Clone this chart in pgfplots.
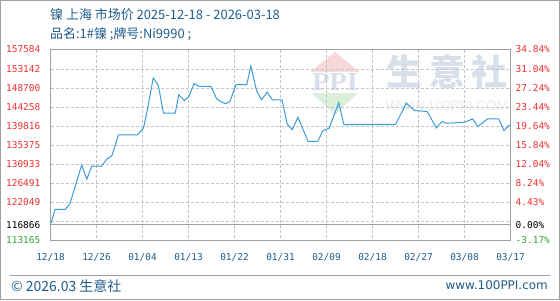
\documentclass[border=0pt]{standalone}
\usepackage{fontspec}
\setmainfont{Noto Sans CJK SC}
\newfontfamily\cjk{Noto Sans CJK SC}
\newfontfamily\mono{DejaVu Sans Mono}
\newfontfamily\dsans{DejaVu Sans}
\newfontfamily\lsans{Liberation Sans}
\newfontfamily\lserif{Liberation Serif}
\usepackage{pgfplots}
\pgfplotsset{compat=1.18}
\definecolor{tblue}{HTML}{1F5C8B}
\definecolor{pred}{HTML}{F03030}
\definecolor{pgreen}{HTML}{30A830}
\definecolor{lblue}{HTML}{3C9BD8}
\definecolor{framec}{HTML}{A0A0A0}
\definecolor{gridc}{HTML}{C4C4C4}
\definecolor{wm}{HTML}{D8DEEA}
\definecolor{wmr}{HTML}{F7D9D9}
\definecolor{wmg}{HTML}{DAEEDA}
\definecolor{wmt}{HTML}{EBEBEB}
\begin{document}
\begin{tikzpicture}[x=1bp,y=1bp]
\useasboundingbox (0,0) rectangle (560,300);
\draw[framec, line width=1bp] (0.5,0.5) rectangle (559.5,299.5);
% watermark
\fill[wmr] (310,228) -- (360,228) -- (335,248) -- cycle;
\fill[wmg] (312,207) -- (358,207) -- (335,185) -- cycle;
\node[text=wm, inner sep=0] at (335,218) {\resizebox{46bp}{17bp}{\lserif\bfseries PPI}};
\node[text=wm, font=\cjk\fontsize{36}{36}\selectfont\bfseries, inner sep=0] at (447,228) {生\hspace{7bp}意\hspace{7bp}社};
\node[text=wmt, inner sep=0] at (447,194) {\resizebox{122bp}{!}{\lsans WWW.100PPI.COM}};
% dashed grid built from short solid segments (decoration)
\foreach \gy in {78.5,97.5,116.5,135.5,154.5,173.5,192.5,211.5,230.5} {
  \draw[gridc, line width=1bp] \foreach \s in {51,56,...,506} {(\s,\gy) -- ++(3,0)};
}
\foreach \gx in {96.5,142.5,188.5,234.5,280.5,326.5,372.5,418.5,464.5} {
  \draw[gridc, line width=1bp] \foreach \s in {250,245,...,63} {(\gx,\s) -- ++(0,-3)};
}
% titles
\node[anchor=west, text=tblue, font=\cjk\fontsize{13}{13}\selectfont, inner sep=0] at (50,285) {镍 上海 市场价 2025-12-18 - 2026-03-18};
\node[anchor=west, text=tblue, font=\cjk\fontsize{13}{13}\selectfont, inner sep=0] at (50,266) {品名:1\#镍 ;牌号:Ni9990 ;};
% footer
\draw[framec, line width=1bp] (10,24.5) -- (550,24.5);
\node[anchor=west, text=tblue, font=\cjk\fontsize{14}{14}\selectfont, inner sep=0] at (11,14) {© 2026.03 生意社};
\node[anchor=east, text=tblue, font=\dsans\fontsize{12}{12}\selectfont, inner sep=0] at (548,15) {www.100PPI.com};
\begin{axis}[
  at={(50.5bp,59.5bp)}, anchor=south west,
  scale only axis, width=460bp, height=191bp,
  xmin=0, xmax=90, ymin=113165, ymax=157584,
  xtick={0,9,...,90},
  xticklabels={12/18,12/26,01/04,01/13,01/22,01/31,02/09,02/18,02/27,03/08,03/17},
  ytick={113165,116866,122048.8,126490.7,130932.6,135374.5,139816.4,144258.3,148700.2,153142.1,157584},
  yticklabels={\textcolor{pgreen}{113165},\textcolor{black}{116866},122049,126491,130933,135375,139816,144258,148700,153142,157584},
  axis line style={framec, line width=1bp},
  tick style={draw=none},
  tick label style={font=\mono\fontsize{9.5}{9.5}\selectfont},
  xticklabel style={text=tblue, anchor=north, inner sep=0pt, yshift=-13bp},
  yticklabel style={text=pred, anchor=east, inner sep=0pt, xshift=-10bp},
  scaled y ticks=false,
]
\draw[framec, line width=1bp] (axis cs:0,116866) -- (axis cs:90,116866);
\addplot[lblue, line width=1bp] coordinates {
(0,116866) (0.9,120410) (2.9,120410) (3.8,121719) (6.1,130697) (7.1,127424)
(8.1,130463) (10.0,130463) (11.0,132100) (12.0,132872) (13.3,137711) (17.0,137711)
(18.2,139348) (18.8,142620) (20.1,150944) (21.1,149237) (22.1,142762) (24.4,142762)
(25.1,147063) (26.2,145730) (27.0,146502) (28.1,149635) (29.1,149003) (31.4,149003)
(32.5,146128) (33.5,145333) (34.3,144958) (35.1,145497) (36.3,149401) (38.4,149401)
(39.2,153750) (40.3,148068) (41.3,145894) (42.4,147671) (43.4,145894) (45.3,145894)
(46.3,140283) (47.3,138950) (48.4,141826) (50.4,136215) (52.3,136215) (53.3,138717)
(54.5,139254) (56.4,145193) (57.4,140119) (67.5,140119) (69.6,145099) (71.2,143391)
(73.7,143158) (75.5,139348) (76.6,140821) (77.4,140424) (81.0,140658) (82.6,141451)
(83.6,139652) (85.5,141451) (87.7,141451) (88.7,138717) (89.8,140049)
};
\end{axis}
\begin{axis}[
  at={(50.5bp,59.5bp)}, anchor=south west,
  scale only axis, width=460bp, height=191bp,
  xmin=0, xmax=90, ymin=113165, ymax=157584,
  axis x line=none, axis y line*=right,
  ytick={113165,116866,122048.8,126490.7,130932.6,135374.5,139816.4,144258.3,148700.2,153142.1,157584},
  yticklabels={\textcolor{pgreen}{-3.17\%},\textcolor{black}{0.00\%},4.43\%,8.24\%,12.04\%,15.84\%,19.64\%,23.44\%,27.24\%,31.04\%,34.84\%},
  axis line style={framec, line width=1bp},
  tick style={draw=none},
  tick label style={font=\mono\fontsize{9.5}{9.5}\selectfont},
  yticklabel style={text=pred, anchor=west, inner sep=0pt, xshift=5bp},
  scaled y ticks=false,
]
\end{axis}
\end{tikzpicture}
\end{document}
